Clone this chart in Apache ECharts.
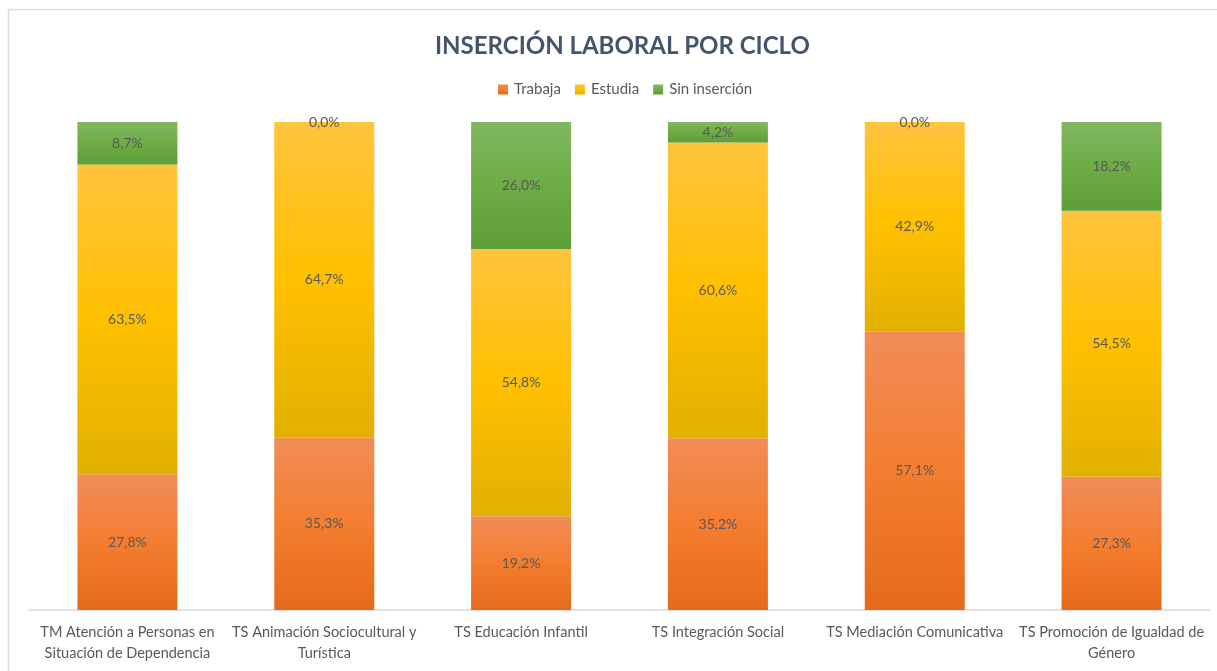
<!DOCTYPE html>
<html>
<head>
<meta charset="utf-8">
<script src="https://cdn.jsdelivr.net/npm/echarts@6/dist/echarts.min.js"></script>
<style>
  html, body { margin: 0; padding: 0; background: #fff; }
  #chart { width: 1217px; height: 671px; }
</style>
</head>
<body>
<div id="chart"></div>
<script>
const categories = [
  'TM Atención a Personas en\nSituación de Dependencia',
  'TS Animación Sociocultural y\nTurística',
  'TS Educación Infantil',
  'TS Integración Social',
  'TS Mediación Comunicativa',
  'TS Promoción de Igualdad de\nGénero'
];
const trabaja = [27.8, 35.3, 19.2, 35.2, 57.1, 27.3];
const estudia = [63.5, 64.7, 54.8, 60.6, 42.9, 54.5];
const sinInsercion = [8.7, 0.0, 26.0, 4.2, 0.0, 18.2];

const FONT = 'Lato, "Open Sans", sans-serif';

function grad(top, mid, bottom) {
  return new echarts.graphic.LinearGradient(0, 0, 0, 1, [
    { offset: 0, color: top },
    { offset: 0.5, color: mid },
    { offset: 1, color: bottom }
  ]);
}

const fmt = p => p.value.toFixed(1).replace('.', ',') + '%';

function series(name, data, fill) {
  return {
    name: name,
    type: 'bar',
    stack: 'total',
    barWidth: 100,
    data: data,
    itemStyle: { color: fill },
    label: {
      show: true,
      position: 'inside',
      formatter: fmt,
      color: '#595959',
      fontFamily: FONT,
      fontSize: 14
    },
    emphasis: { disabled: true }
  };
}

const chart = echarts.init(document.getElementById('chart'), null, { renderer: 'canvas' });
chart.setOption({
  animation: false,
  backgroundColor: '#ffffff',
  color: ['#ED7D31', '#FFC000', '#70AD47'],
  graphic: [{
    type: 'rect',
    shape: { x: 8.5, y: 9.5, width: 1400, height: 800 },
    style: { fill: 'none', stroke: '#D9DDE3', lineWidth: 1.5 },
    silent: true
  }],
  title: {
    text: 'INSERCIÓN LABORAL POR CICLO',
    left: 430,
    top: 29,
    textStyle: { fontFamily: FONT, fontSize: 24, fontWeight: 'bold', color: '#44546A' }
  },
  legend: {
    top: 77,
    left: 493,
    itemWidth: 10,
    itemHeight: 10,
    itemGap: 14,
    icon: 'rect',
    textStyle: { fontFamily: FONT, fontSize: 15, color: '#595959', padding: [0, 0, 0, 1] },
    data: ['Trabaja', 'Estudia', 'Sin inserción']
  },
  grid: { left: 29, right: 7, top: 122, bottom: 61, containLabel: false },
  xAxis: {
    type: 'category',
    data: categories,
    axisLine: { lineStyle: { color: '#D9D9D9', width: 1.5 } },
    axisTick: { show: false },
    axisLabel: {
      interval: 0,
      margin: 12,
      color: '#595959',
      fontFamily: FONT,
      fontSize: 14.5,
      lineHeight: 21
    }
  },
  yAxis: {
    type: 'value',
    min: 0,
    max: 100,
    show: false,
    splitLine: { show: false }
  },
  series: [
    series('Trabaja', trabaja, grad('#F08D58', '#F47D30', '#E56A1C')),
    series('Estudia', estudia, grad('#FFC43E', '#FFC000', '#E2B000')),
    series('Sin inserción', sinInsercion, grad('#80B861', '#6EAC45', '#5E9E37'))
  ]
});
</script>
</body>
</html>
